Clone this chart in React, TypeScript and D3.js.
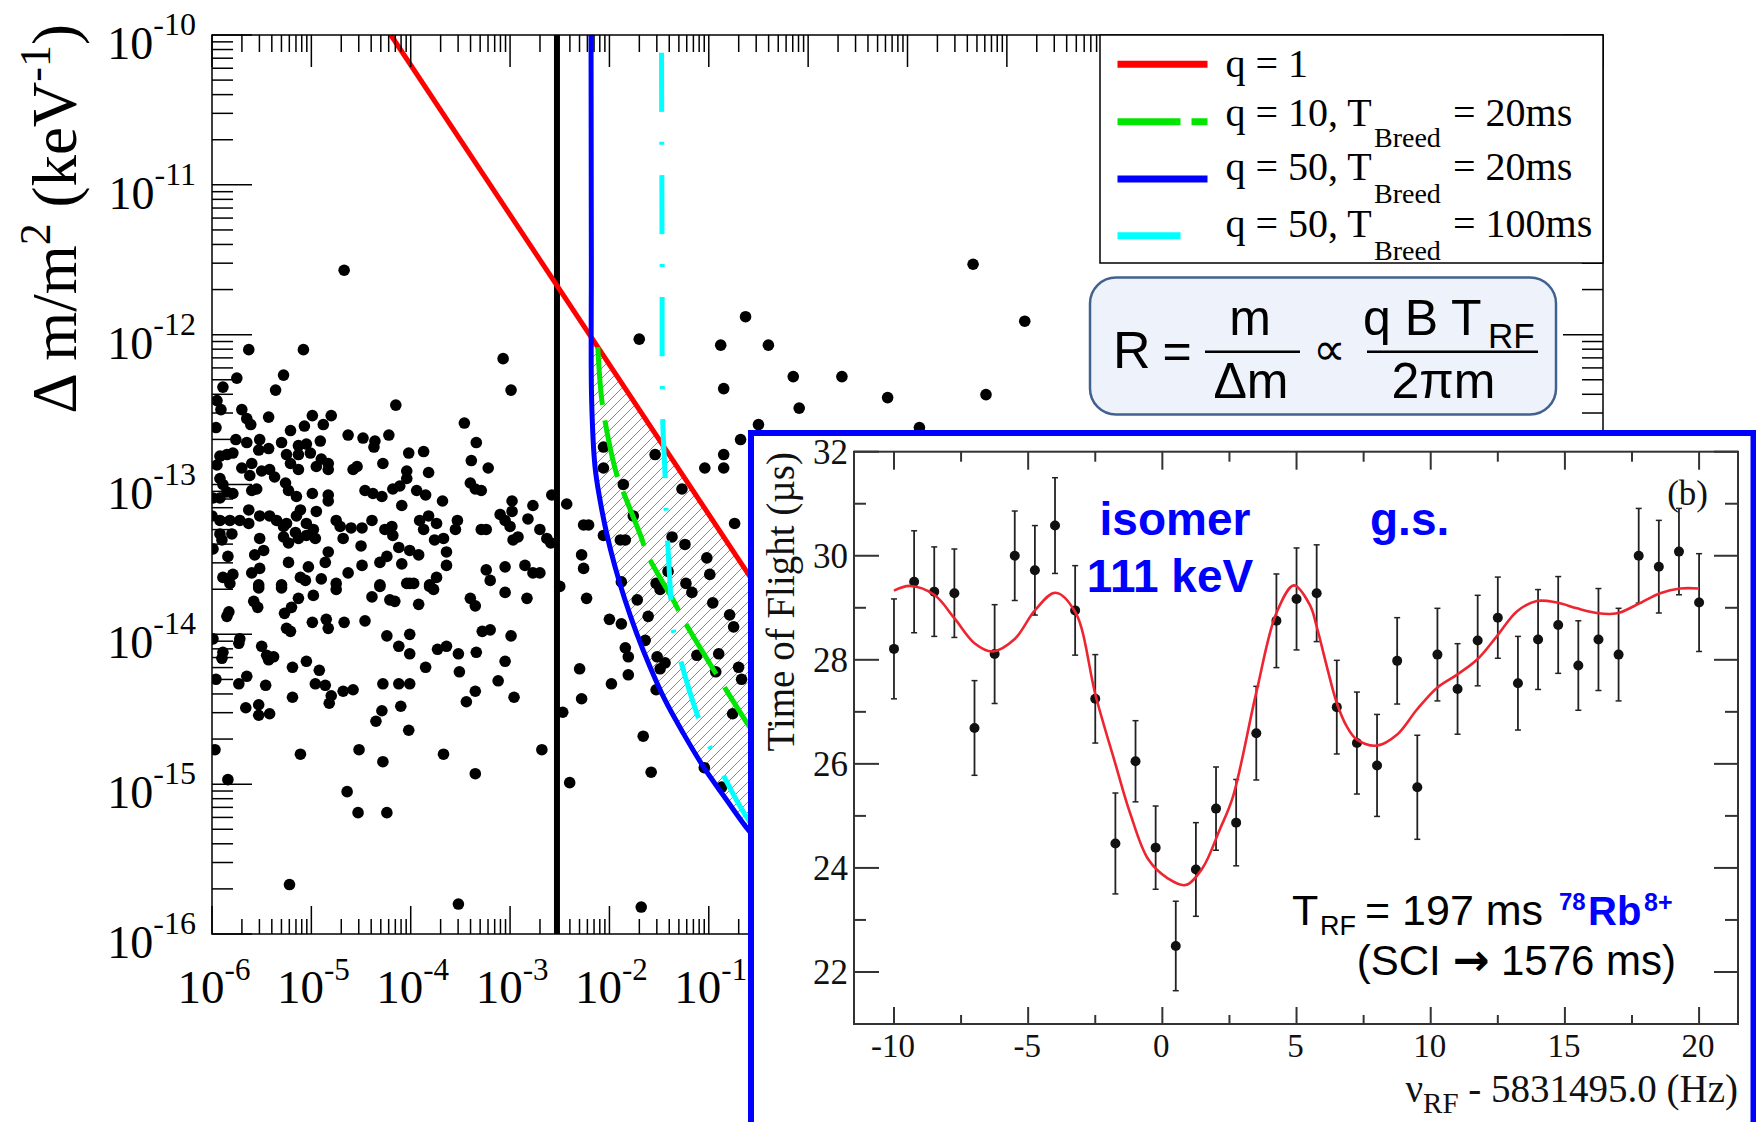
import React from "react";
import * as d3 from "d3";

const W = 1756;
const H = 1122;

// ---------------- main plot data (log10 values) ----------------
const xDecades = [-6, -5, -4, -3, -2, -1, 0, 1, 2, 3, 4, 5, 6, 7, 8];
const yDecades = [-16, -15, -14, -13, -12, -11, -10];
const xLabelDecades = [-6, -5, -4, -3, -2, -1];
const minorMult = [2, 3, 4, 5, 6, 7, 8, 9];

const scatterExp: [number, number][] = [
  [-5.63,-12.10],[-5.08,-12.10],[-3.07,-12.16],[-5.75,-12.29],[-5.28,-12.27],[-5.36,-12.37],[-2.99,-12.37],[-4.15,-12.47],[-5.89,-12.35],[-5.95,-12.44],
  [-5.91,-12.50],[-5.70,-12.50],[-5.65,-12.56],[-5.61,-12.60],[-5.43,-12.55],[-4.99,-12.54],[-4.80,-12.54],[-4.88,-12.60],[-5.07,-12.61],[-3.46,-12.59],
  [-5.96,-12.62],[-5.76,-12.70],[-5.65,-12.72],[-5.52,-12.70],[-5.53,-12.77],[-5.43,-12.76],[-5.30,-12.72],[-5.21,-12.64],[-5.13,-12.74],[-5.05,-12.73],
  [-4.91,-12.71],[-5.01,-12.79],[-5.13,-12.80],[-5.25,-12.80],[-5.21,-12.86],[-5.13,-12.90],[-4.63,-12.67],[-4.48,-12.69],[-4.36,-12.71],[-4.37,-12.75],
  [-4.22,-12.67],[-4.02,-12.79],[-3.87,-12.78],[-3.34,-12.72],[-3.39,-12.84],[-3.22,-12.89],[-5.92,-12.81],[-5.85,-12.80],[-5.79,-12.79],[-5.95,-12.87],
  [-5.70,-12.89],[-5.60,-12.86],[-5.62,-12.94],[-5.50,-12.91],[-5.42,-12.90],[-5.37,-12.95],[-4.90,-12.83],[-4.83,-12.86],[-4.95,-12.88],[-4.83,-12.90],
  [-4.54,-12.88],[-4.58,-12.90],[-4.28,-12.86],[-4.04,-12.91],[-4.04,-12.96],[-3.82,-12.92],[-3.40,-12.99],[-3.35,-13.03],[-3.29,-13.04],[-5.92,-12.96],
  [-5.89,-13.00],[-5.85,-13.05],[-5.92,-13.09],[-5.99,-13.09],[-5.79,-13.06],[-5.55,-13.03],[-5.60,-13.04],[-5.26,-12.99],[-5.23,-13.04],[-5.15,-13.08],
  [-4.99,-13.06],[-4.83,-13.07],[-4.83,-13.11],[-4.46,-13.04],[-4.38,-13.06],[-4.29,-13.08],[-4.18,-13.03],[-4.11,-13.01],[-3.94,-13.04],[-3.85,-13.07],
  [-3.68,-13.11],[-4.09,-13.14],[-2.58,-13.07],[-2.43,-13.13],[-2.98,-13.11],[-2.77,-13.14],[-6.00,-13.21],[-5.92,-13.24],[-5.82,-13.24],[-5.72,-13.24],
  [-5.63,-13.17],[-5.63,-13.26],[-5.52,-13.21],[-5.42,-13.21],[-5.35,-13.24],[-5.25,-13.26],[-5.15,-13.21],[-5.11,-13.17],[-4.95,-13.18],[-5.05,-13.26],
  [-4.98,-13.30],[-5.16,-13.32],[-5.28,-13.28],[-5.92,-13.33],[-5.90,-13.37],[-5.80,-13.33],[-5.52,-13.36],[-5.28,-13.35],[-5.23,-13.39],[-5.13,-13.36],
  [-5.05,-13.34],[-4.96,-13.36],[-4.75,-13.24],[-4.71,-13.28],[-4.60,-13.29],[-4.49,-13.29],[-4.39,-13.24],[-4.68,-13.36],[-4.19,-13.28],[-4.26,-13.30],
  [-4.18,-13.34],[-3.91,-13.24],[-3.82,-13.21],[-3.74,-13.26],[-3.87,-13.30],[-3.76,-13.37],[-3.67,-13.36],[-3.53,-13.24],[-3.55,-13.30],[-3.10,-13.20],
  [-3.05,-13.24],[-2.98,-13.18],[-3.00,-13.28],[-2.97,-13.37],[-2.92,-13.35],[-2.82,-13.23],[-3.29,-13.30],[-3.24,-13.30],[-2.70,-13.30],[-2.63,-13.36],
  [-2.59,-13.39],[-5.99,-13.43],[-5.84,-13.48],[-5.89,-13.62],[-5.79,-13.60],[-5.82,-13.66],[-5.57,-13.47],[-5.48,-13.44],[-5.60,-13.59],[-5.52,-13.56],
  [-5.53,-13.67],[-5.23,-13.52],[-5.11,-13.62],[-5.03,-13.55],[-5.06,-13.64],[-4.83,-13.45],[-4.86,-13.52],[-4.90,-13.63],[-4.63,-13.59],[-4.49,-13.54],
  [-4.50,-13.41],[-4.31,-13.52],[-4.24,-13.48],[-4.12,-13.42],[-4.09,-13.53],[-4.31,-13.67],[-4.01,-13.44],[-3.92,-13.47],[-3.64,-13.45],[-3.64,-13.54],
  [-3.74,-13.62],[-4.01,-13.66],[-3.81,-13.67],[-3.24,-13.57],[-3.20,-13.64],[-3.05,-13.55],[-2.85,-13.54],[-2.77,-13.59],[-2.70,-13.59],[-5.30,-13.67],
  [-4.75,-13.66],
  [-5.83,-13.85],[-5.85,-13.88],[-5.58,-13.78],[-5.54,-13.82],[-5.53,-13.69],[-5.30,-13.69],[-5.27,-13.86],[-5.20,-13.82],[-5.13,-13.76],[-4.98,-13.74],
  [-4.75,-13.70],[-4.39,-13.75],[-4.31,-13.68],[-4.21,-13.77],[-4.16,-13.78],[-4.04,-13.66],[-3.97,-13.66],[-3.92,-13.80],[-3.81,-13.68],[-3.77,-13.70],
  [-3.40,-13.76],[-3.35,-13.81],[-3.05,-13.72],[-2.83,-13.76],[-5.99,-14.03],[-5.89,-14.12],[-5.90,-14.16],[-5.72,-14.03],[-5.73,-14.06],[-5.96,-14.30],
  [-5.73,-14.33],[-5.65,-14.28],[-5.50,-14.08],[-5.45,-14.14],[-5.38,-14.15],[-5.43,-14.17],[-5.25,-13.96],[-5.21,-13.98],[-4.99,-13.92],[-4.85,-13.90],
  [-4.83,-13.96],[-4.67,-13.92],[-4.46,-13.91],[-5.19,-14.22],[-5.05,-14.18],[-4.92,-14.24],[-5.46,-14.34],[-5.19,-14.42],[-4.96,-14.33],[-4.86,-14.34],
  [-4.80,-14.41],[-4.82,-14.46],[-4.68,-14.38],[-4.58,-14.37],[-5.66,-14.49],[-5.53,-14.47],[-5.53,-14.54],[-5.42,-14.53],[-4.24,-14.01],[-4.12,-14.08],
  [-4.01,-14.13],[-4.01,-14.00],[-4.28,-14.33],[-4.12,-14.33],[-4.01,-14.33],[-4.29,-14.51],[-4.35,-14.58],[-4.10,-14.48],[-4.02,-14.64],[-3.85,-14.22],
  [-3.73,-14.10],[-3.64,-14.08],[-3.52,-14.13],[-3.51,-14.25],[-3.34,-14.12],[-3.28,-13.98],[-3.20,-13.97],[-3.05,-14.18],[-2.99,-14.01],[-3.12,-14.31],
  [-2.96,-14.42],[-3.35,-14.38],[-3.44,-14.45],[-2.47,-14.52],[-5.97,-14.77],[-5.11,-14.80],[-4.52,-14.77],[-4.28,-14.85],[-3.67,-14.80],[-2.68,-14.77],
  [-3.35,-14.93],[-5.84,-14.97],[-2.40,-14.99],[-4.64,-15.05],[-4.53,-15.19],[-4.24,-15.19],[-5.22,-15.67],[-3.52,-15.80],
  [-1.70,-12.03],[-0.88,-12.07],[-0.63,-11.88],[-0.85,-12.36],
  [-0.68,-12.70],[-0.85,-12.80],[-0.85,-12.89],[-1.04,-12.89],[-1.54,-12.80],[-2.06,-12.75],[-2.06,-12.89],[-1.27,-13.03],[-1.86,-13.00],[-2.26,-13.27],
  [-2.21,-13.27],[-2.06,-13.34],[-1.89,-13.37],[-1.84,-13.37],[-1.76,-13.21],[-1.37,-13.35],[-1.24,-13.40],[-0.74,-13.26],[-2.28,-13.47],[-2.26,-13.56],
  [-1.02,-13.49],[-0.99,-13.60],[-2.50,-13.68],[-2.23,-13.76],[-1.88,-13.65],[-1.72,-13.77],[-1.53,-13.66],[-1.41,-13.58],[-1.49,-13.70],[-1.23,-13.66],
  [-1.17,-13.72],[-0.96,-13.79],[-2.00,-13.90],[-1.88,-13.93],[-1.61,-13.88],[-1.64,-14.04],[-1.84,-14.09],[-1.81,-14.15],[-0.79,-13.87],[-0.75,-13.95],
  [-1.52,-14.15],[-1.44,-14.19],[-1.49,-14.23],[-1.12,-14.14],[-0.90,-14.13],[-0.93,-14.25],[-0.70,-14.22],[-0.67,-14.30],[-2.30,-14.23],[-1.98,-14.33],
  [-2.28,-14.43],[-1.81,-14.27],[-1.53,-14.37],[-0.76,-14.53],[-1.66,-14.68],[-1.58,-14.92],[-1.045,-14.89],[-0.87,-15.02],[-1.68,-15.82],
  [-0.40,-12.07],[-0.15,-12.28],[0.34,-12.28],[-0.09,-12.49],[0.80,-12.42],[1.79,-12.40],[1.66,-11.53],[2.18,-11.91],[1.12,-12.62],[-0.50,-12.60],
  [-4.67,-11.57],
];

const redExpX = [-4.2, 0.0];
const redExpY = [-10.0, -14.2];
const blueExpX = [-2.185, -2.182, -2.179, -2.145, -2.095, -2.028, -1.944, -1.843, -1.726, -1.592, -1.441, -1.256, -1.055, -0.82, -0.602, -0.35];
const blueExpY = [-10.0, -11.5, -12.436, -12.881, -13.103, -13.326, -13.548, -13.771, -13.993, -14.216, -14.438, -14.661, -14.883, -15.106, -15.306, -15.5];
const greenExpX = [-2.117, -2.07, -1.944, -1.894, -1.676, -1.625, -1.34, -1.273, -0.971, -0.887, -0.602, -0.35];
const greenExpY = [-12.083, -12.47, -12.892, -12.992, -13.359, -13.459, -13.793, -13.882, -14.216, -14.305, -14.605, -14.85];
const cyanExpX = [-1.476, -1.470, -1.464, -1.441, -1.431, -1.384, -1.361, -1.29, -1.122, -1.008, -0.870, -0.619, -0.35];
const cyanExpY = [-10.0, -11.5, -12.556, -12.923, -13.150, -13.738, -13.958, -14.158, -14.525, -14.719, -14.919, -15.22, -15.45];
const blackLineExp = -2.528;

// ---------------- inset data ----------------
const freqHz = [-10, -9.25, -8.5, -7.75, -7, -6.25, -5.5, -4.75, -4, -3.25, -2.5, -1.75, -1, -0.25, 0.5, 1.25, 2, 2.75, 3.5, 4.25, 5,
  5.75, 6.5, 7.25, 8, 8.75, 9.5, 10.25, 11, 11.75, 12.5, 13.25, 14, 14.75, 15.5, 16.25, 17, 17.75, 18.5, 19.25, 20];
const tofUs = [28.21, 29.50, 29.31, 29.28, 26.69, 28.11, 30.00, 29.72, 30.58, 28.95, 27.25, 24.47, 26.05, 24.39, 22.50, 23.97, 25.14, 24.87, 26.59, 28.75, 29.17,
  29.28, 27.09, 26.40, 25.97, 27.98, 25.55, 28.10, 27.44, 28.37, 28.81, 27.55, 28.39, 28.67, 27.89, 28.39, 28.10, 30.00, 29.79, 30.08, 29.10];
const tofErr = [0.96, 0.98, 0.86, 0.85, 0.91, 0.95, 0.86, 0.86, 0.92, 0.86, 0.85, 0.97, 0.78, 0.80, 0.86, 0.90, 0.80, 0.83, 0.90, 0.90, 0.98,
  0.93, 0.90, 0.98, 0.98, 0.83, 1.00, 0.89, 0.87, 0.87, 0.78, 0.90, 0.96, 0.93, 0.86, 0.98, 0.89, 0.91, 0.89, 0.83, 0.94];
const fitHz = [-10, -9.4, -8.5, -7.75, -7.0, -6.33, -5.5, -4.75, -3.98, -3.23, -2.48, -1.75, -1.2, -0.52, 0.2, 0.86, 1.5, 2.14, 2.62, 3.5, 4.25, 4.9,
  5.5, 5.75, 6.13, 6.5, 6.87, 7.24, 7.99, 8.74, 9.48, 10.23, 10.97, 11.72, 12.46, 13.21, 13.95, 14.7, 15.45, 16.19, 16.69, 17.06, 17.8, 18.55, 19.3, 20.0];
const fitTof = [29.33, 29.42, 29.25, 28.8, 28.32, 28.16, 28.4, 28.95, 29.29, 28.9, 27.3, 26.0, 25.05, 24.16, 23.8, 23.67, 24.0, 24.74, 25.35, 27.37, 28.9, 29.43,
  29.05, 28.64, 27.87, 27.17, 26.72, 26.47, 26.35, 26.56, 27.04, 27.46, 27.71, 28.0, 28.45, 28.93, 29.13, 29.1, 28.99, 28.9, 28.88, 28.91, 29.09, 29.28, 29.37, 29.37];
const insetXTicks = [-10, -7.5, -5, -2.5, 0, 2.5, 5, 7.5, 10, 12.5, 15, 17.5, 20];
const insetXLabels = [-10, -5, 0, 5, 10, 15, 20];
const insetYTicks = [22, 23, 24, 25, 26, 27, 28, 29, 30, 31, 32];
const insetYLabels = [22, 24, 26, 28, 30, 32];

const legendItems = [
  { color: "#ff0000", dash: "none", label: "q = 1", sub: "", tail: "" },
  { color: "#00e600", dash: "63,11,16,11", label: "q = 10, T", sub: "Breed", tail: "= 20ms" },
  { color: "#0000ff", dash: "none", label: "q = 50, T", sub: "Breed", tail: "= 20ms" },
  { color: "#00ffff", dash: "63,200", label: "q = 50, T", sub: "Breed", tail: "= 100ms" },
];
const legendLineY = [64.3, 121.7, 179, 235.7];
const legendTextY = [76.7, 126, 180, 237.3];
const legendSubY = [0, 147.3, 203.3, 260];

// ---------------- scales ----------------
const PL = 212, PR = 1603, PT = 35, PB = 934;
const mx = d3.scaleLog().domain([1e-6, 1e8]).range([PL, PR]);
const my = d3.scaleLog().domain([1e-16, 1e-10]).range([PB, PT]);
const px = (e: number) => mx(Math.pow(10, e));
const py = (e: number) => my(Math.pow(10, e));

const IL = 854, IR = 1738, IT = 451.7, IB = 1024;
const ix = d3.scaleLinear().domain([-11.49, 21.45]).range([IL, IR]);
const iy = d3.scaleLinear().domain([21, 32]).range([IB, IT]);

const SERIF = "'Liberation Serif', 'Times New Roman', serif";
const SANS = "'Liberation Sans', Arial, sans-serif";

export default function App() {
  const curve = d3.line<[number, number]>().curve(d3.curveCatmullRom.alpha(0.5));
  const straight = d3.line<[number, number]>();
  const toPix = (xs: number[], ys: number[]) => xs.map((x, i) => [px(x), py(ys[i])] as [number, number]);

  const redPts = toPix(redExpX, redExpY);
  const bluePts = toPix(blueExpX, blueExpY);
  const greenPts = toPix(greenExpX, greenExpY);
  const cyanPts = toPix(cyanExpX, cyanExpY);

  const redAt = (e: number) => redExpY[0] + ((e - redExpX[0]) * (redExpY[1] - redExpY[0])) / (redExpX[1] - redExpX[0]);
  const topPt: [number, number] = [px(-2.17), py(redAt(-2.17))];
  const hatchBlue = bluePts.filter((_, i) => blueExpY[i] < -12.1);
  const lastE = blueExpX[blueExpX.length - 1];
  const hatchD = curve([topPt, ...hatchBlue]) + ` L${px(lastE)},${py(redAt(lastE))} Z`;

  const xMinor = xDecades.slice(0, -1).flatMap((e) => minorMult.map((m) => Math.log10(m) + e));
  const yMinor = yDecades.slice(0, -1).flatMap((e) => minorMult.map((m) => Math.log10(m) + e));

  const fitPts = fitHz.map((f, i) => [ix(f), iy(fitTof[i])] as [number, number]);

  const tk = { stroke: "#000", strokeWidth: 1.5 };
  const itk = { stroke: "#333", strokeWidth: 2 };

  return (
    <div style={{ width: W, height: H, position: "absolute", left: 0, top: 0 }}>
      <style>{"body{margin:0}"}</style>
      <svg width={W} height={H} viewBox={`0 0 ${W} ${H}`} style={{ display: "block" }}>
        <defs>
          <clipPath id="plotClip">
            <rect x={PL} y={PT} width={PR - PL} height={PB - PT} />
          </clipPath>
          <pattern id="hatch" patternUnits="userSpaceOnUse" width={10} height={10}>
            <path d="M0,10 L10,0 M-2.5,2.5 L2.5,-2.5 M7.5,12.5 L12.5,7.5" stroke="#8a8a8a" strokeWidth={1} />
          </pattern>
        </defs>
        <rect x={0} y={0} width={W} height={H} fill="#fff" />

        {/* ---------- main plot ---------- */}
        <g clipPath="url(#plotClip)">
          <path d={hatchD} fill="url(#hatch)" stroke="none" />
          {scatterExp.map((p, i) => (
            <circle key={i} cx={px(p[0])} cy={py(p[1])} r={5.8} fill="#000" />
          ))}
          <line x1={px(blackLineExp)} x2={px(blackLineExp)} y1={PT} y2={PB} stroke="#000" strokeWidth={6} />
          <path d={straight(redPts) || ""} fill="none" stroke="#ff0000" strokeWidth={5} />
          <path d={curve(greenPts) || ""} fill="none" stroke="#00e600" strokeWidth={5} strokeDasharray="58,15.7" />
          <path d={curve(cyanPts) || ""} fill="none" stroke="#00ffff" strokeWidth={5} strokeDasharray="59,30,3,30" strokeDashoffset={104} />
          <path d={curve(bluePts) || ""} fill="none" stroke="#0000ff" strokeWidth={5} />
        </g>

        {/* frame */}
        <rect x={PL} y={PT} width={PR - PL} height={PB - PT} fill="none" stroke="#000" strokeWidth={1.5} />
        {xDecades.map((e) => (
          <g key={"xm" + e}>
            <line x1={px(e)} x2={px(e)} y1={PT} y2={PT + 32} {...tk} />
            <line x1={px(e)} x2={px(e)} y1={PB} y2={PB - 28} {...tk} />
          </g>
        ))}
        {xMinor.map((e, i) => (
          <g key={"xn" + i}>
            <line x1={px(e)} x2={px(e)} y1={PT} y2={PT + 17} {...tk} />
            <line x1={px(e)} x2={px(e)} y1={PB} y2={PB - 15} {...tk} />
          </g>
        ))}
        {yDecades.map((e) => (
          <g key={"ym" + e}>
            <line x1={PL} x2={PL + 40} y1={py(e)} y2={py(e)} {...tk} />
            <line x1={PR} x2={PR - 40} y1={py(e)} y2={py(e)} {...tk} />
          </g>
        ))}
        {yMinor.map((e, i) => (
          <g key={"yn" + i}>
            <line x1={PL} x2={PL + 21} y1={py(e)} y2={py(e)} {...tk} />
            <line x1={PR} x2={PR - 21} y1={py(e)} y2={py(e)} {...tk} />
          </g>
        ))}
        {yDecades.map((e) => (
          <text key={"yl" + e} x={196} y={py(e) + 24} textAnchor="end" fontFamily={SERIF} fontSize={46} fill="#000">
            10<tspan dy={-24} fontSize={32}>{String(e)}</tspan>
          </text>
        ))}
        {xLabelDecades.map((e) => (
          <text key={"xl" + e} x={px(e) + 2} y={1003} textAnchor="middle" fontFamily={SERIF} fontSize={47} fill="#000">
            10<tspan dy={-23} fontSize={31}>{String(e)}</tspan>
          </text>
        ))}
        <text transform="translate(76,24) rotate(-90)" textAnchor="end" fontFamily={SERIF} fontSize={63} fill="#000">
          Δ m/m<tspan dy={-26} fontSize={44}>2</tspan>
          <tspan dy={26}> (keV</tspan>
          <tspan dy={-26} fontSize={44}>-1</tspan>
          <tspan dy={26}>)</tspan>
        </text>

        {/* legend */}
        <rect x={1100} y={PT} width={PR - 1100} height={263 - PT} fill="#fff" stroke="#000" strokeWidth={1.5} />
        {legendItems.map((it, i) => (
          <g key={"lg" + i}>
            <line x1={1117.5} x2={1207.5} y1={legendLineY[i]} y2={legendLineY[i]} stroke={it.color} strokeWidth={7}
              strokeDasharray={it.dash === "none" ? undefined : it.dash} />
            <text x={1225.5} y={legendTextY[i]} fontFamily={SERIF} fontSize={40} fill="#000">{it.label}</text>
            {it.sub && (
              <text x={1374} y={legendSubY[i]} fontFamily={SERIF} fontSize={28} fill="#000">{it.sub}</text>
            )}
            {it.tail && (
              <text x={1453} y={legendTextY[i]} fontFamily={SERIF} fontSize={40} fill="#000">{it.tail}</text>
            )}
          </g>
        ))}

        {/* formula box */}
        <rect x={1090} y={277.5} width={466} height={137} rx={26} ry={26} fill="#eef2fa" stroke="#41618f" strokeWidth={2.5} />
        <g fontFamily={SANS} fill="#000">
          <text x={1113} y={368} fontSize={52}>R</text>
          <text x={1177} y={368} fontSize={50} textAnchor="middle">=</text>
          <line x1={1205} x2={1300} y1={351.7} y2={351.7} stroke="#000" strokeWidth={2.5} />
          <text x={1250} y={335} fontSize={50} textAnchor="middle">m</text>
          <text x={1251} y={398} fontSize={50} textAnchor="middle">Δm</text>
          <text x={1329} y={365} fontSize={46} textAnchor="middle">∝</text>
          <line x1={1367} x2={1538} y1={351.7} y2={351.7} stroke="#000" strokeWidth={2.5} />
          <text x={1363} y={335} fontSize={50}>q B T</text>
          <text x={1488} y={348} fontSize={35}>RF</text>
          <text x={1443.5} y={398} fontSize={50} textAnchor="middle">2πm</text>
        </g>

        {/* ---------- inset ---------- */}
        <rect x={751} y={433} width={1002.5} height={720} fill="#fff" stroke="#0000ff" strokeWidth={6} />
        <rect x={IL} y={IT} width={IR - IL} height={IB - IT} fill="none" stroke="#333" strokeWidth={2} />
        {insetXTicks.map((t) => {
          const major = t % 5 === 0;
          return (
            <g key={"ixt" + t}>
              <line x1={ix(t)} x2={ix(t)} y1={IT} y2={IT + (major ? 18 : 10)} {...itk} />
              <line x1={ix(t)} x2={ix(t)} y1={IB} y2={IB - (major ? 17 : 9)} {...itk} />
            </g>
          );
        })}
        {insetYTicks.map((t) => {
          const major = t % 2 === 0;
          return (
            <g key={"iyt" + t}>
              <line x1={IL} x2={IL + (major ? 25 : 12)} y1={iy(t)} y2={iy(t)} {...itk} />
              <line x1={IR} x2={IR - (major ? 24 : 13)} y1={iy(t)} y2={iy(t)} {...itk} />
            </g>
          );
        })}
        {insetYLabels.map((t) => (
          <text key={"iyl" + t} x={848} y={iy(t) + 12} textAnchor="end" fontFamily={SERIF} fontSize={35} fill="#111">{t}</text>
        ))}
        {insetXLabels.map((t) => (
          <text key={"ixl" + t} x={ix(t) - 1} y={1057} textAnchor="middle" fontFamily={SERIF} fontSize={33} fill="#111">{t}</text>
        ))}
        <text transform="translate(794,452) rotate(-90)" textAnchor="end" fontFamily={SERIF} fontSize={39} fill="#111">
          Time of Flight (µs)
        </text>
        <text x={1738} y={1102} textAnchor="end" fontFamily={SERIF} fontSize={39} fill="#111">
          ν<tspan dy={11} fontSize={29}>RF</tspan>
          <tspan dy={-11}> - 5831495.0 (Hz)</tspan>
        </text>
        <text x={1708} y={505} textAnchor="end" fontFamily={SERIF} fontSize={35} fill="#111">(b)</text>

        {freqHz.map((f, i) => {
          const x = ix(f);
          const y1 = iy(tofUs[i] - tofErr[i]);
          const y2 = iy(tofUs[i] + tofErr[i]);
          return (
            <g key={"pt" + i}>
              <line x1={x} x2={x} y1={y1} y2={y2} stroke="#222" strokeWidth={1.8} />
              <line x1={x - 3} x2={x + 3} y1={y1} y2={y1} stroke="#222" strokeWidth={1.5} />
              <line x1={x - 3} x2={x + 3} y1={y2} y2={y2} stroke="#222" strokeWidth={1.5} />
              <circle cx={x} cy={iy(tofUs[i])} r={5} fill="#111" />
            </g>
          );
        })}
        <path d={curve(fitPts) || ""} fill="none" stroke="#ee2530" strokeWidth={2.6} />

        <g fontFamily={SANS} fontWeight="bold" fill="#0000ff">
          <text x={1175} y={535} fontSize={46} textAnchor="middle">isomer</text>
          <text x={1170} y={591.7} fontSize={46} textAnchor="middle">111 keV</text>
          <text x={1370} y={535} fontSize={46}>g.s.</text>
        </g>
        <g fontFamily={SANS} fill="#000">
          <text x={1292} y={925} fontSize={43}>T</text>
          <text x={1320} y={935} fontSize={27}>RF</text>
          <text x={1365} y={925} fontSize={43}>= 197 ms</text>
          <text x={1676} y={975} fontSize={42} textAnchor="end">
            (SCI <tspan fontFamily="'DejaVu Sans', sans-serif" fontWeight="bold" fontSize={44}>→</tspan> 1576 ms)
          </text>
        </g>
        <g fontFamily={SANS} fontWeight="bold" fill="#0000ff">
          <text x={1559} y={910} fontSize={24}>78</text>
          <text x={1588} y={925} fontSize={40}>Rb</text>
          <text x={1644} y={911} fontSize={25}>8+</text>
        </g>
      </svg>
    </div>
  );
}
